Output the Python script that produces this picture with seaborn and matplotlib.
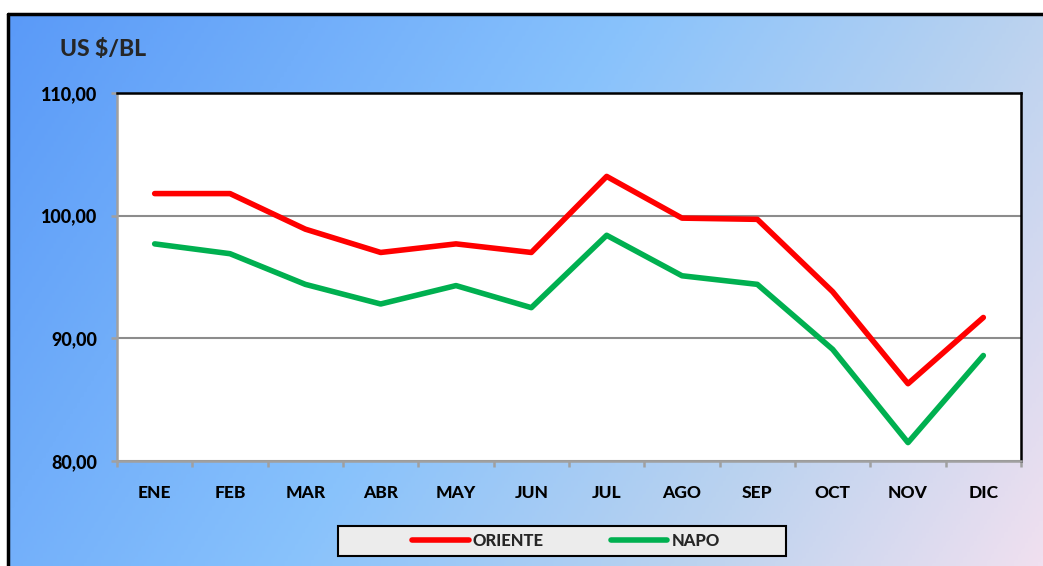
import matplotlib
matplotlib.use("Agg")
import matplotlib.pyplot as plt
import matplotlib.colors as mcolors
from matplotlib.patches import Rectangle
from matplotlib.lines import Line2D
from matplotlib.ticker import FixedLocator, FuncFormatter
import numpy as np
import pandas as pd
import seaborn as sns

# datos
meses = ["ENE", "FEB", "MAR", "ABR", "MAY", "JUN", "JUL", "AGO", "SEP", "OCT", "NOV", "DIC"]
oriente = [101.8, 101.8, 98.9, 97.0, 97.7, 97.0, 103.2, 99.8, 99.7, 93.8, 86.3, 91.7]
napo = [97.7, 96.9, 94.4, 92.8, 94.3, 92.5, 98.4, 95.1, 94.4, 89.1, 81.5, 88.6]
y_ticks = [80, 90, 100, 110]

df = pd.concat([
    pd.DataFrame({"mes": meses, "precio": oriente, "crudo": "ORIENTE"}),
    pd.DataFrame({"mes": meses, "precio": napo, "crudo": "NAPO"}),
])

sns.set_theme(style="white")
plt.rcParams['font.family'] = ['Lato', 'DejaVu Sans']
PESO = "black"

W, H = 1043, 566
fig = plt.figure(figsize=(W / 100, H / 100), dpi=100)
fig.patch.set_facecolor("white")

# fondo degradado
bg = fig.add_axes([8 / W, 0, 1 - 8 / W, 1 - 14 / H])
bg.set_axis_off()
cmap = mcolors.LinearSegmentedColormap.from_list(
    "fondo", [(0, "#5a9af8"), (0.45, "#88c2fc"), (0.75, "#bcd3ef"), (1, "#f0e0f0")])
gx, gy = np.meshgrid(np.linspace(0, 1, 300), np.linspace(0, 1, 200))
bg.imshow(0.75 * gx + 0.25 * gy, cmap=cmap, aspect="auto", extent=(0, 1, 1, 0), vmin=0, vmax=1)
bg.set_xlim(0, 1)
bg.set_ylim(1, 0)
fig.add_artist(Line2D([8 / W, 8 / W], [0, 1 - 14 / H], color="black", lw=2.5))
fig.add_artist(Line2D([8 / W, 1], [1 - 14 / H, 1 - 14 / H], color="black", lw=2.5))

ax = fig.add_axes([117 / W, 1 - 461 / H, 904 / W, 368 / H])
ax.set_facecolor("white")
sns.lineplot(data=df, x="mes", y="precio", hue="crudo", sort=False,
             palette={"ORIENTE": "#ff0000", "NAPO": "#00b050"},
             lw=4, ax=ax, legend=False, solid_capstyle="round")

ax.set_xlim(-0.5, len(meses) - 0.5)
ax.set_ylim(y_ticks[0], y_ticks[-1])
ax.set_yticks(y_ticks)
ax.yaxis.set_major_formatter(FuncFormatter(lambda v, p: f"{v:.2f}".replace(".", ",")))
ax.set_xticks(range(len(meses)))
ax.set_xticklabels(meses)
ax.xaxis.set_minor_locator(FixedLocator(np.arange(-0.5, len(meses), 1)))
ax.grid(axis="y", color="#8c8c8c", lw=1.5)
ax.set_xlabel("")
ax.set_ylabel("")

for s in ["left", "bottom"]:
    ax.spines[s].set_color("#a0a0a0")
    ax.spines[s].set_linewidth(1.8)
for s in ["top", "right"]:
    ax.spines[s].set_color("black")
    ax.spines[s].set_linewidth(1.8)

ax.tick_params(axis="x", which="major", length=0, pad=17, labelsize=12.5)
ax.tick_params(axis="x", which="minor", bottom=True, length=4, width=1.8, color="#a0a0a0")
ax.tick_params(axis="y", left=True, length=4, width=1.8, color="#a0a0a0", pad=10, labelsize=13)
for lab in ax.get_xticklabels() + ax.get_yticklabels():
    lab.set_fontweight(PESO)
    lab.set_color("black")

fig.text(60 / W, 1 - 50 / H, "US $/BL", fontsize=16.5, fontweight=PESO, va="center", ha="left")

# leyenda
fig.add_artist(Rectangle((338 / W, 1 - 556 / H), 448 / W, 30 / H, transform=fig.transFigure,
                         facecolor="#ececec", edgecolor="black", lw=1.5))
handles = [Line2D([], [], color="#ff0000", lw=4, solid_capstyle="round"),
           Line2D([], [], color="#00b050", lw=4, solid_capstyle="round")]
leg = fig.legend(handles, ["ORIENTE", "NAPO"], loc="center",
                 bbox_to_anchor=(566 / W, 1 - 541 / H), ncol=2, frameon=False,
                 handlelength=3.4, handletextpad=0.25, columnspacing=4.0,
                 prop={"weight": PESO, "size": 12})

fig.savefig("out.png", dpi=100)
